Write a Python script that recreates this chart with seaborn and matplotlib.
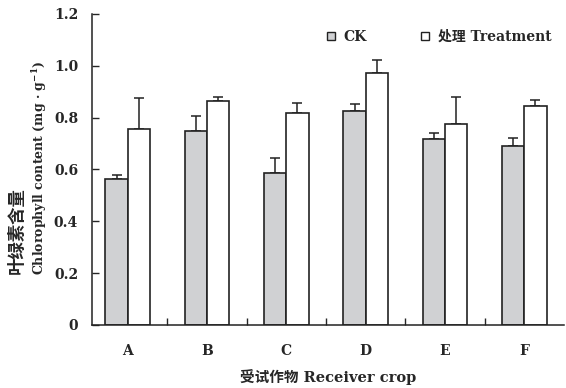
import numpy as np
import pandas as pd
import matplotlib
matplotlib.use('Agg')
import matplotlib.pyplot as plt
from matplotlib.lines import Line2D
import seaborn as sns

crops = ['A', 'B', 'C', 'D', 'E', 'F']
ck_vals = [0.565, 0.747, 0.587, 0.827, 0.718, 0.690]
ck_err = [0.012, 0.061, 0.056, 0.026, 0.024, 0.032]
trt_vals = [0.758, 0.865, 0.817, 0.973, 0.777, 0.845]
trt_err = [0.119, 0.015, 0.041, 0.049, 0.101, 0.023]
groups = ['CK', '处理 Treatment']

sns.set_style('ticks')
plt.rcParams['font.family'] = ['DejaVu Serif', 'Noto Sans CJK SC']
plt.rcParams['font.weight'] = 'bold'
plt.rcParams['mathtext.fontset'] = 'dejavuserif'

df = pd.DataFrame({
    'crop': crops * 2,
    'value': ck_vals + trt_vals,
    'group': [groups[0]] * 6 + [groups[1]] * 6,
})

fig = plt.figure(figsize=(5.66, 3.88), dpi=100)
ax = fig.add_axes([0.1625, 0.1624, 0.834, 0.8016])

sns.barplot(data=df, x='crop', y='value', hue='group', order=crops,
            hue_order=groups, palette=['#d0d1d3', 'white'], width=0.56,
            edgecolor='#222222', linewidth=1.2, errorbar=None, legend=False, ax=ax)

# one-sided error bars, drawn on the bar positions seaborn chose
bars = ax.patches[:12]
xs = [b.get_x() + b.get_width() / 2 for b in bars]
ys = ck_vals + trt_vals
errs = ck_err + trt_err
ax.errorbar(xs, ys, yerr=[np.zeros(12), errs], fmt='none', ecolor='#222222',
            elinewidth=1.1, capsize=3.6, capthick=1.1, zorder=0)

ax.set_ylim(0, 1.2)
ax.set_xlim(-0.45, 5.5)
ax.set_yticks([0, 0.2, 0.4, 0.6, 0.8, 1.0, 1.2])
ax.set_yticklabels(['0', '0.2', '0.4', '0.6', '0.8', '1.0', '1.2'])
ax.set_xticks(range(6))
ax.set_xticks(np.arange(0.5, 5.5, 1.0), minor=True)
ax.tick_params(axis='x', which='major', length=0, pad=14, labelsize=10)
ax.tick_params(axis='x', which='minor', direction='in', length=5, width=1)
ax.tick_params(axis='y', direction='in', length=5, width=1, labelsize=10, pad=10)
sns.despine(ax=ax)
for s in ['left', 'bottom']:
    ax.spines[s].set_linewidth(1.1)
    ax.spines[s].set_color('#222222')

ax.set_xlabel('受试作物 Receiver crop', fontsize=10.5, fontweight='bold', labelpad=8)
ax.set_ylabel('')
# two y-label lines, bottom aligned as in the original
fig.text(17 / 566, 1 - 274 / 388, '叶绿素含量', rotation=90, ha='center', va='bottom',
         fontsize=12.5, fontweight='bold')
fig.text(40 / 566, 1 - 275 / 388, 'Chlorophyll content (mg · g$^{\\mathbf{-1}}$)',
         rotation=90, ha='center', va='bottom', fontsize=9, fontweight='bold')

handles = [Line2D([], [], marker='s', ls='none', markersize=5.5, markerfacecolor=c,
                  markeredgecolor='#222222', markeredgewidth=1)
           for c in ['#d0d1d3', 'white']]
ax.legend(handles, groups, loc='upper right', bbox_to_anchor=(1.0, 0.99), ncol=2,
          frameon=False, handletextpad=0.4, columnspacing=3.7, handlelength=1.0,
          prop={'size': 10, 'weight': 'bold'})

fig.savefig('out.png', dpi=100)
